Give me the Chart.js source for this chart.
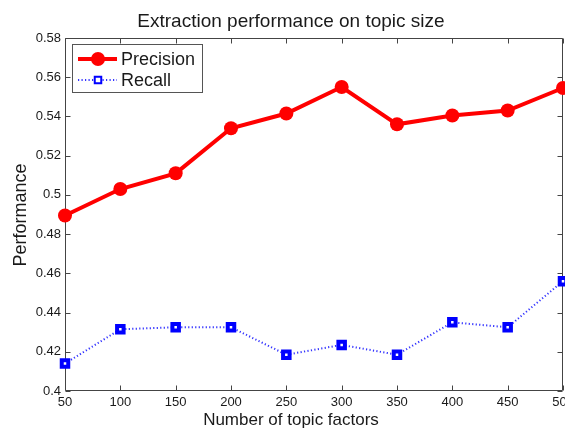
<!DOCTYPE html>
<html>
<head>
<meta charset="utf-8">
<script src="https://cdn.jsdelivr.net/npm/chart.js@4.4.0/dist/chart.umd.min.js"></script>
<style>
  html, body { margin: 0; padding: 0; background: #fff; overflow: hidden; }
  #wrap { width: 600px; height: 428px; position: relative; }
</style>
</head>
<body>
<div id="wrap"><canvas id="perf-chart"></canvas></div>
<script>
const topicFactors = [50, 100, 150, 200, 250, 300, 350, 400, 450, 500];
const precision = [0.4895, 0.503, 0.511, 0.534, 0.5415, 0.555, 0.536, 0.5405, 0.543, 0.5545];
const recall = [0.414, 0.4315, 0.4325, 0.4325, 0.4185, 0.4235, 0.4185, 0.435, 0.4325, 0.456];
const yTicks = [0.4, 0.42, 0.44, 0.46, 0.48, 0.5, 0.52, 0.54, 0.56, 0.58];
const xTicks = [50, 100, 150, 200, 250, 300, 350, 400, 450, 500];

const FONT = "'Liberation Sans', Arial, sans-serif";
const TEXT = '#1a1a1a';

// box + inward ticks on all four sides, like matlab
const frame = {
    id: 'frame',
    beforeDatasetsDraw(chart) {
        const {ctx, chartArea: a, scales: {x, y}} = chart;
        const L = Math.round(a.left) + 0.5, R = Math.round(a.right) - 0.5;
        const T = Math.round(a.top) + 0.5, B = Math.round(a.bottom) - 0.5;
        ctx.save();
        ctx.strokeStyle = '#444';
        ctx.lineWidth = 1;
        ctx.beginPath();
        ctx.rect(L, T, R - L, B - T);
        x.ticks.forEach(t => {
            const px = Math.round(x.getPixelForValue(t.value)) + 0.5;
            ctx.moveTo(px, B); ctx.lineTo(px, B - 5);
            ctx.moveTo(px, T); ctx.lineTo(px, T + 5);
        });
        y.ticks.forEach(t => {
            const py = Math.round(y.getPixelForValue(t.value)) + 0.5;
            ctx.moveTo(L, py); ctx.lineTo(L + 5, py);
            ctx.moveTo(R, py); ctx.lineTo(R - 5, py);
        });
        ctx.stroke();
        ctx.restore();
    }
};

// titles + boxed legend with line and marker
const decor = {
    id: 'decor',
    afterDraw(chart) {
        const ctx = chart.ctx;
        ctx.save();
        ctx.fillStyle = TEXT;
        ctx.textAlign = 'center';
        ctx.textBaseline = 'alphabetic';
        ctx.font = '19px ' + FONT;
        ctx.fillText('Extraction performance on topic size', 291, 27);
        ctx.font = '17px ' + FONT;
        ctx.fillText('Number of topic factors', 291, 425);
        ctx.translate(26, 215);
        ctx.rotate(-Math.PI / 2);
        ctx.font = '18px ' + FONT;
        ctx.fillText('Performance', 0, 0);
        ctx.restore();

        // legend
        ctx.save();
        ctx.fillStyle = '#fff';
        ctx.strokeStyle = '#555';
        ctx.lineWidth = 1;
        ctx.fillRect(72.5, 44.5, 130, 48);
        ctx.strokeRect(72.5, 44.5, 130, 48);
        const rows = [59, 80];
        chart.data.datasets.forEach((ds, i) => {
            const yy = rows[i];
            ctx.save();
            ctx.strokeStyle = ds.borderColor;
            ctx.lineWidth = ds.borderWidth;
            ctx.setLineDash(ds.borderDash || []);
            ctx.beginPath();
            ctx.moveTo(78, yy);
            ctx.lineTo(117, yy);
            ctx.stroke();
            ctx.setLineDash([]);
            ctx.fillStyle = ds.pointBackgroundColor;
            ctx.strokeStyle = ds.pointBorderColor;
            Chart.helpers.drawPoint(ctx, {
                pointStyle: ds.pointStyle,
                radius: ds.pointRadius,
                borderWidth: ds.pointBorderWidth,
                rotation: 0
            }, 98, yy);
            ctx.restore();
            ctx.fillStyle = TEXT;
            ctx.font = '18px ' + FONT;
            ctx.textAlign = 'left';
            ctx.textBaseline = 'middle';
            ctx.fillText(ds.label, 121, yy + 1);
        });
        ctx.restore();
    }
};

const ctx = document.getElementById('perf-chart');
const perfChart = new Chart(ctx, {
    type: 'line',
    data: {
        datasets: [{
            label: 'Precision',
            data: topicFactors.map((x, i) => ({x: x, y: precision[i]})),
            borderColor: '#ff0000',
            borderWidth: 4,
            pointStyle: 'circle',
            pointRadius: 7,
            pointBackgroundColor: '#ff0000',
            pointBorderColor: '#ff0000',
            pointBorderWidth: 0,
            tension: 0,
            clip: false
        }, {
            label: 'Recall',
            data: topicFactors.map((x, i) => ({x: x, y: recall[i]})),
            borderColor: '#3333ff',
            borderWidth: 2,
            borderDash: [1.2, 2.3],
            pointStyle: 'rect',
            pointRadius: 4.6,
            pointBackgroundColor: '#ffffff',
            pointBorderColor: '#0000ff',
            pointBorderWidth: 4,
            tension: 0,
            clip: false
        }]
    },
    options: {
        responsive: true,
        maintainAspectRatio: false,
        animation: false,
        events: [],
        layout: {
            // canvas is 600 wide, page shows 565, so the last tick label is cut like the original
            padding: {top: 38, right: 37, left: 0, bottom: 0}
        },
        plugins: {
            legend: {display: false},
            tooltip: {enabled: false},
            title: {display: false}
        },
        scales: {
            x: {
                type: 'linear',
                min: 50,
                max: 500,
                grid: {display: false, drawTicks: false},
                border: {display: false},
                ticks: {
                    autoSkip: false,
                    maxRotation: 0,
                    padding: 4,
                    color: TEXT,
                    font: {family: FONT, size: 13}
                },
                afterBuildTicks: s => { s.ticks = xTicks.map(v => ({value: v})); },
                afterFit: s => { s.height = 37; }
            },
            y: {
                min: 0.4,
                max: 0.58,
                grid: {display: false, drawTicks: false},
                border: {display: false},
                ticks: {
                    padding: 4,
                    color: TEXT,
                    font: {family: FONT, size: 13},
                    callback: v => String(+v.toFixed(2))
                },
                afterBuildTicks: s => { s.ticks = yTicks.map(v => ({value: v})); },
                afterFit: s => { s.width = 65; }
            }
        }
    },
    plugins: [frame, decor]
});
</script>
</body>
</html>
